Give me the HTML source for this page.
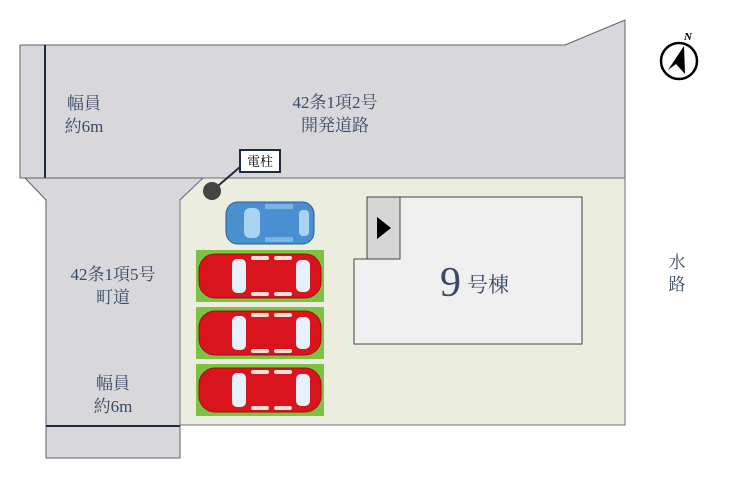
<!DOCTYPE html>
<html><head><meta charset="utf-8"><style>
html,body{margin:0;padding:0;background:#fff;}
svg text{font-family:"Liberation Serif","Noto Serif CJK SC",serif;fill:#3a4a66;}
</style></head><body>
<svg width="740" height="495" viewBox="0 0 740 495" xmlns="http://www.w3.org/2000/svg">
<defs>
<g id="red">
  <rect x="0" y="0" width="128" height="52" fill="#7dc242"/>
  <rect x="3" y="4" width="122" height="44" rx="16" fill="#d9141c" stroke="#a50d12" stroke-width="1"/>
  <rect x="36" y="9" width="14" height="34" rx="5" fill="#e6f1fb"/>
  <rect x="100" y="10" width="14" height="32" rx="5" fill="#e6f1fb"/>
  <rect x="55" y="6" width="18" height="4" rx="2" fill="#f3dede"/>
  <rect x="78" y="6" width="18" height="4" rx="2" fill="#f3dede"/>
  <rect x="55" y="42" width="18" height="4" rx="2" fill="#f3dede"/>
  <rect x="78" y="42" width="18" height="4" rx="2" fill="#f3dede"/>
</g>
</defs>
<!-- top road -->
<polygon points="20,45 565,45 625,20 625,178 20,178" fill="#d8d8da" stroke="#5a6070" stroke-width="1"/>
<line x1="45" y1="45" x2="45" y2="178" stroke="#1e2a40" stroke-width="2"/>
<!-- left road -->
<polygon points="25,178 203,178 180,200 180,458 46,458 46,200" fill="#d8d8da" stroke="#5a6070" stroke-width="1"/>
<line x1="46" y1="426" x2="180" y2="426" stroke="#1e2a40" stroke-width="2"/>
<!-- lot -->
<polygon points="203,178 625,178 625,425 180,425 180,200" fill="#ebeede" stroke="#6a7080" stroke-width="1"/>
<!-- building -->
<polygon points="367,197 582,197 582,344 354,344 354,259 367,259" fill="#f0f0f0" stroke="#444" stroke-width="1"/>
<rect x="367" y="197" width="33" height="62" fill="#d6d6d6" stroke="#444" stroke-width="1"/>
<polygon points="377,217 391,228 377,239" fill="#000"/>
<text x="440" y="296" font-size="42" fill="#3a4a66">9</text>
<text x="467" y="292" font-size="21" font-family="Liberation Sans,'Noto Sans CJK SC',sans-serif">号棟</text>
<!-- cars -->
<g>
  <rect x="226" y="202" width="88" height="42" rx="12" fill="#4a8fd0" stroke="#2a5d95"/>
  <rect x="244" y="208" width="16" height="30" rx="6" fill="#a9d4f2"/>
  <rect x="299" y="210" width="10" height="26" rx="4" fill="#a9d4f2"/>
  <rect x="265" y="204" width="28" height="5" fill="#7ab4e2"/>
  <rect x="265" y="237" width="28" height="5" fill="#7ab4e2"/>
</g>
<use href="#red" x="196" y="250"/>
<use href="#red" x="196" y="307"/>
<use href="#red" x="196" y="364"/>
<!-- pole -->
<line x1="212" y1="191" x2="240" y2="167" stroke="#1e2a40" stroke-width="2"/>
<circle cx="212" cy="191" r="9" fill="#444"/>
<rect x="240" y="150" width="40" height="22" fill="#fff" stroke="#1e2a40" stroke-width="2"/>
<text x="260" y="166" font-size="13" text-anchor="middle" style="fill:#000" font-family="Liberation Sans,'Noto Sans CJK SC',sans-serif">電柱</text>
<!-- labels -->
<text x="84" y="109" font-size="17" text-anchor="middle">幅員</text>
<text x="84" y="132" font-size="17" text-anchor="middle">約6m</text>
<text x="335" y="108" font-size="17" text-anchor="middle">42条1項2号</text>
<text x="335" y="131" font-size="17" text-anchor="middle">開発道路</text>
<text x="113" y="280" font-size="17" text-anchor="middle">42条1項5号</text>
<text x="113" y="303" font-size="17" text-anchor="middle">町道</text>
<text x="113" y="389" font-size="17" text-anchor="middle">幅員</text>
<text x="113" y="412" font-size="17" text-anchor="middle">約6m</text>
<text x="677" y="268" font-size="17" text-anchor="middle">水</text>
<text x="677" y="290" font-size="17" text-anchor="middle">路</text>
<!-- compass -->
<circle cx="679" cy="61" r="18" fill="#fff" stroke="#000" stroke-width="2.5"/>
<polygon points="684,46 685,74 676,64 668,70" fill="#000"/>
<text x="684" y="40" font-size="11" font-weight="bold" style="fill:#000" font-family="Liberation Sans,sans-serif" font-style="italic">N</text>
</svg>
</body></html>
